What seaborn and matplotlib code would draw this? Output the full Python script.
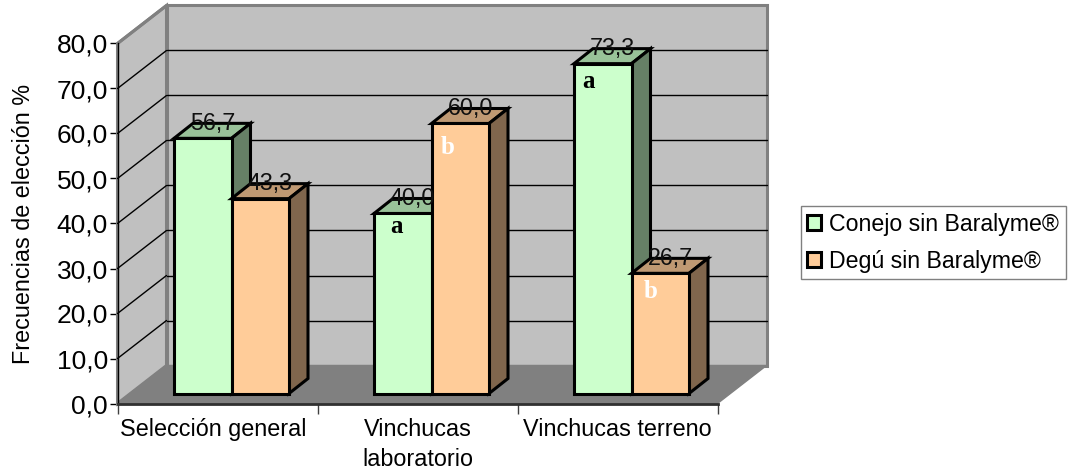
import matplotlib
matplotlib.use("Agg")
import matplotlib.pyplot as plt
from matplotlib.patches import Polygon
from matplotlib.transforms import Affine2D
import pandas as pd
import seaborn as sns

# values
categories = ["Selección general", "Vinchucas\nlaboratorio", "Vinchucas terreno"]
series_names = ["Conejo sin Baralyme®", "Degú sin Baralyme®"]
conejo = [56.7, 40.0, 73.3]
degu = [43.3, 60.0, 26.7]
letters_conejo = ["", "a", "a"]
letters_degu = ["", "b", "b"]
y_ticks = [0, 10, 20, 30, 40, 50, 60, 70, 80]

# colours: front, top, side
green = ["#CCFFCC", "#99C299", "#668066"]
orange = ["#FFCC99", "#BF9973", "#80664D"]

sns.set_style("white")
plt.rcParams["font.family"] = ["Liberation Sans", "DejaVu Sans"]

W, H = 1068, 473
fig = plt.figure(figsize=(W / 100, H / 100), dpi=100)
ax = fig.add_axes([117.5 / W, 1 - 403.5 / H, 600 / W, 360 / H])

df = pd.DataFrame({
    "cat": categories * 2,
    "val": conejo + degu,
    "serie": [series_names[0]] * 3 + [series_names[1]] * 3,
})
sns.barplot(data=df, x="cat", y="val", hue="serie", palette=[green[0], orange[0]],
            width=0.575, gap=0, edgecolor="black", linewidth=2.2, ax=ax, saturation=1)

ax.set_xlim(-0.5, 2.5)
ax.set_ylim(0, 80)

# pixel sizes in data units
px = 1 / 200
py = 80 / 360
wall_dx, wall_dy = 49 * px, 38 * py
bar_shift_x, bar_shift_y = 14 * px, 10 * py
depth_x, depth_y = 19 * px, 15 * py

# walls and floor of the 3d box
x0, x1 = -0.5, 2.5
ax.add_patch(Polygon([(x0 + wall_dx, wall_dy), (x1 + wall_dx, wall_dy),
                      (x1 + wall_dx, 80 + wall_dy), (x0 + wall_dx, 80 + wall_dy)],
                     fc="#C0C0C0", ec="#808080", lw=2.2, clip_on=False, zorder=0.5))
ax.add_patch(Polygon([(x0, 0), (x0 + wall_dx, wall_dy), (x0 + wall_dx, 80 + wall_dy), (x0, 80)],
                     fc="#C0C0C0", ec="#808080", lw=2.2, clip_on=False, zorder=0.6))
ax.add_patch(Polygon([(x0, 0), (x1, 0), (x1 + wall_dx, wall_dy), (x0 + wall_dx, wall_dy)],
                     fc="#808080", ec="#808080", lw=1, clip_on=False, zorder=0.7))
for v in y_ticks[1:]:
    if v < 80:
        ax.plot([x0 + wall_dx, x1 + wall_dx], [v + wall_dy, v + wall_dy], color="black",
                lw=1, clip_on=False, zorder=0.8)
    ax.plot([x0, x0 + wall_dx], [v, v + wall_dy], color="#808080" if v == 80 else "black",
            lw=2.2 if v == 80 else 1, clip_on=False, zorder=0.8)


def draw_series(container, colours, base_z, values, letters, letter_offsets):
    for i, (bar, v) in enumerate(zip(container.patches, values)):
        bar.set_x(bar.get_x() + bar_shift_x)
        bar.set_y(bar_shift_y)
        bar.set_zorder(base_z + 0.2)
        bar.set_clip_on(False)
        left = bar.get_x()
        right = left + bar.get_width()
        low = bar_shift_y
        high = low + v
        ax.add_patch(Polygon([(left, high), (right, high), (right + depth_x, high + depth_y),
                              (left + depth_x, high + depth_y)],
                             fc=colours[1], ec="black", lw=2.2, joinstyle="miter",
                             clip_on=False, zorder=base_z))
        ax.add_patch(Polygon([(right, low), (right + depth_x, low + depth_y),
                              (right + depth_x, high + depth_y), (right, high)],
                             fc=colours[2], ec="black", lw=2.2, joinstyle="miter",
                             clip_on=False, zorder=base_z))
        centre = (left + right) / 2
        ax.annotate(f"{v:.1f}".replace(".", ","), (centre, high), xytext=(10, 15),
                    textcoords="offset pixels", ha="center", va="center",
                    fontsize=16.8, color="#101010", zorder=10, annotation_clip=False)
        if letters[i]:
            ax.annotate(letters[i], (centre, high), xytext=letter_offsets[i],
                        textcoords="offset pixels", ha="center", va="center",
                        fontsize=18, fontweight="bold", family="Liberation Serif",
                        color="black" if letters[i] == "a" else "white", zorder=10,
                        annotation_clip=False)


draw_series(ax.containers[0], green, 3, conejo, letters_conejo, [(0, 0), (-6, -13), (-14, -18)])
draw_series(ax.containers[1], orange, 4, degu, letters_degu, [(0, 0), (-13, -24), (-10, -18)])

# axes
for s in ["top", "right"]:
    ax.spines[s].set_visible(False)
ax.spines["left"].set_color("black")
ax.spines["left"].set_linewidth(1)
ax.spines["bottom"].set_color("#303030")
ax.spines["bottom"].set_linewidth(2)
ax.spines["left"].set_zorder(2)
ax.spines["bottom"].set_zorder(2)

ax.set_yticks(y_ticks)
ax.set_yticklabels([f"{v:.1f}".replace(".", ",") for v in y_ticks], fontsize=19)
ax.tick_params(axis="y", left=True, length=6, width=1, color="black", pad=1, labelcolor="black")
ax.set_xticks([0, 1, 2])
ax.set_xticklabels(categories, fontsize=16.8, color="black", linespacing=1.38)
ax.set_xticks([-0.5, 0.5, 1.5, 2.5], minor=True)
ax.tick_params(axis="x", which="major", bottom=False, pad=7)
ax.tick_params(axis="x", which="minor", bottom=True, length=7, width=1, color="#404040")
first_label = ax.get_xticklabels()[0]
first_label.set_transform(first_label.get_transform() + Affine2D().translate(-4, 0))
ax.set_xlabel("")
ax.set_ylabel("Frecuencias de elección %", fontsize=16.8, color="black")
ax.yaxis.set_label_coords((35 - 117.5) / 600, 0.5)

handles, labels = ax.get_legend_handles_labels()
leg = ax.legend(handles, labels, loc="upper left", bbox_to_anchor=(800.5 / W, 1 - 206.5 / H),
                bbox_transform=fig.transFigure, fontsize=16.7, frameon=True, fancybox=False,
                framealpha=1, edgecolor="#808080", borderpad=0.27, labelspacing=0.6,
                handlelength=0.62, handleheight=0.62, handletextpad=0.36, borderaxespad=0)
leg.get_frame().set_linewidth(1)
for t in leg.get_texts():
    t.set_color("black")

fig.savefig("out.png", dpi=100)
